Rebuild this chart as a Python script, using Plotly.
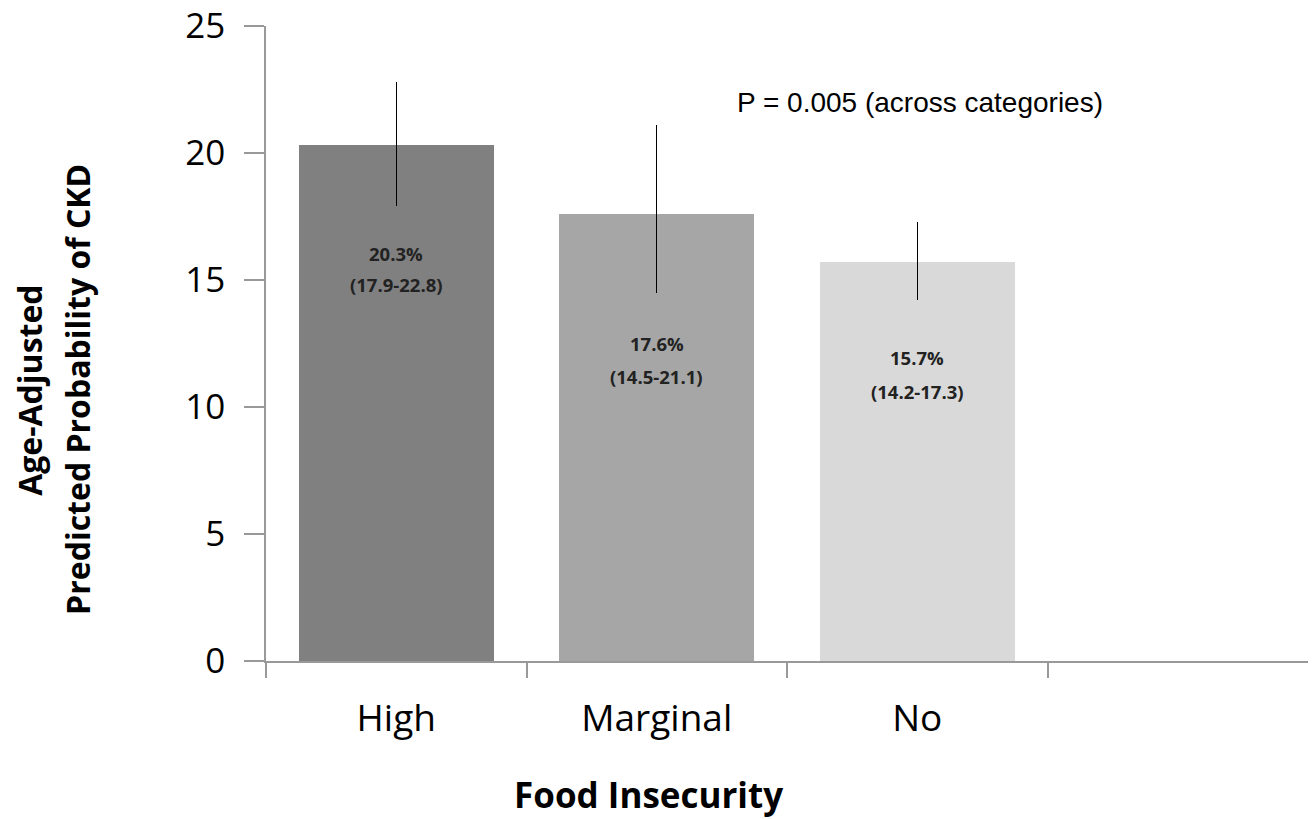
import plotly.graph_objects as go

categories = ["High", "Marginal", "No"]
values = [20.3, 17.6, 15.7]
ci_low = [17.9, 14.5, 14.2]
ci_high = [22.8, 21.1, 17.3]
bar_colors = ["#808080", "#a6a6a6", "#d9d9d9"]
label_y_value = [16.06, 12.52, 11.93]
label_y_ci = [14.84, 11.22, 10.63]
y_ticks = [0, 5, 10, 15, 20, 25]

x_pos = [i + 0.5 for i in range(len(categories))]
err_plus = [h - v for h, v in zip(ci_high, values)]
err_minus = [v - l for l, v in zip(ci_low, values)]

fig = go.Figure()
fig.add_trace(go.Bar(
    x=x_pos, y=values, width=0.75,
    marker=dict(color=bar_colors, line=dict(width=0)),
    error_y=dict(type="data", symmetric=False, array=err_plus, arrayminus=err_minus,
                 color="black", thickness=1.3, width=0),
    showlegend=False, hoverinfo="skip",
))
fig.add_trace(go.Scatter(x=x_pos, y=values, xaxis="x2", mode="markers",
                         marker=dict(opacity=0), showlegend=False, hoverinfo="skip"))

lab_font = dict(family="Open Sans", size=18.5, color="#222222")
for xp, y1, y2, v, lo, hi in zip(x_pos, label_y_value, label_y_ci, values, ci_low, ci_high):
    fig.add_annotation(x=xp, y=y1, xref="x", yref="y", showarrow=False,
                       text=f"<b>{v:.1f}%</b>", font=lab_font)
    fig.add_annotation(x=xp, y=y2, xref="x", yref="y", showarrow=False,
                       text=f"<b>({lo:.1f}-{hi:.1f})</b>", font=lab_font)

fig.add_annotation(x=1.8, y=22.0, xref="x", yref="y", xanchor="left", showarrow=False,
                   text="P = 0.005 (across categories)",
                   font=dict(family="Liberation Sans", size=28, color="black"))

title_font = dict(family="Open Sans", size=32, color="black")
fig.add_annotation(x=-0.2265, y=0.427, xref="paper", yref="paper", textangle=-90,
                   showarrow=False, xanchor="center", yanchor="middle",
                   text="<b>Age-Adjusted</b>", font=title_font)
fig.add_annotation(x=-0.1804, y=0.427, xref="paper", yref="paper", textangle=-90,
                   showarrow=False, xanchor="center", yanchor="middle",
                   text="<b>Predicted Probability of CKD</b>", font=title_font)
fig.add_annotation(x=0.367, y=-0.21, xref="paper", yref="paper", showarrow=False,
                   xanchor="center", yanchor="middle",
                   text="<b>Food Insecurity</b>",
                   font=dict(family="Open Sans", size=35, color="black"))

fig.update_layout(
    width=1314, height=819,
    margin=dict(l=266, r=6, t=26, b=158, autoexpand=False),
    paper_bgcolor="white", plot_bgcolor="white",
    bargap=0,
    xaxis=dict(range=[0, 4], tickvals=[0, 1, 2, 3], showticklabels=False,
               ticks="outside", ticklen=15, tickcolor="#999999", tickwidth=1.5,
               showline=True, linecolor="#999999", linewidth=1.5,
               showgrid=False, zeroline=False, automargin=False),
    xaxis2=dict(range=[0, 4], overlaying="x", side="bottom", tickvals=x_pos,
                ticktext=categories, ticks="", showline=False, showgrid=False,
                zeroline=False, tickfont=dict(family="Open Sans", size=37, color="black"),
                ticklabelstandoff=32, automargin=False),
    yaxis=dict(range=[0, 25.001], tickvals=y_ticks, ticks="outside", ticklen=20,
               tickcolor="#999999", tickwidth=1.5, showline=True, linecolor="#999999",
               linewidth=1.5, showgrid=False, zeroline=False, automargin=False,
               tickfont=dict(family="Open Sans", size=35, color="black"),
               ticklabelstandoff=12, ticklabeloverflow="allow"),
)

fig.write_html("out.html", config={"displayModeBar": False},
               post_script="document.body.style.margin='0';")
